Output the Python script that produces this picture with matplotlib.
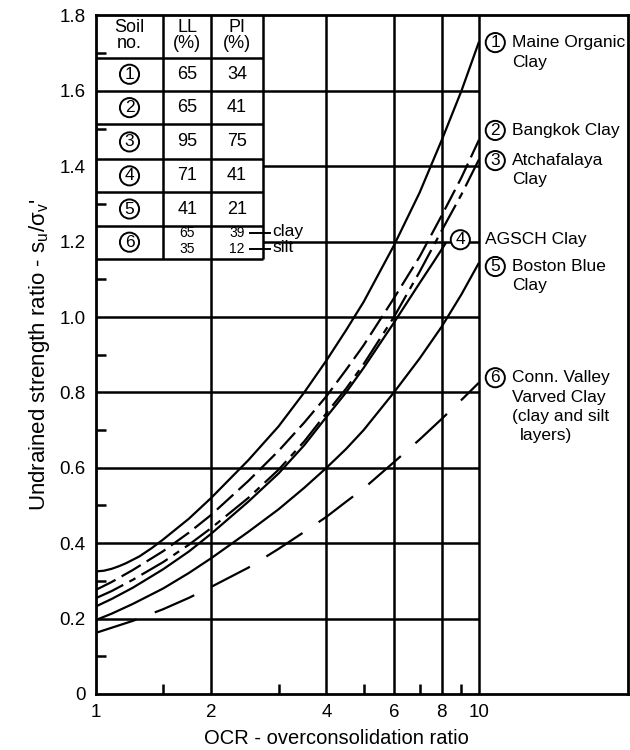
import matplotlib
matplotlib.use("Agg")
import matplotlib.pyplot as plt
import numpy as np
from matplotlib.patches import Rectangle
from matplotlib.ticker import NullFormatter

plt.rcParams["font.family"] = ["Liberation Sans", "DejaVu Sans"]
plt.rcParams["mathtext.fontset"] = "custom"
plt.rcParams["mathtext.rm"] = "Liberation Sans"
plt.rcParams["mathtext.default"] = "regular"
plt.rcParams["lines.scale_dashes"] = False

# --- soil table -------------------------------------------------------------
soil_no = ["1", "2", "3", "4", "5", "6"]
liquid_limit = [65, 65, 95, 71, 41]
plasticity_index = [34, 41, 75, 41, 21]
varved_layers = ["clay", "silt"]
varved_ll = [65, 35]
varved_pi = [39, 12]

soil_names = [
    ["Maine Organic", "Clay"],
    ["Bangkok Clay"],
    ["Atchafalaya", "Clay"],
    ["AGSCH Clay"],
    ["Boston Blue", "Clay"],
    ["Conn. Valley", "Varved Clay", "(clay and silt", "layers)"],
]

# --- undrained strength ratio vs OCR ----------------------------------------
ocr_1 = [1, 1.05, 1.1, 1.15, 1.2, 1.3, 1.4, 1.5, 1.75, 2, 2.5, 3, 3.5, 4, 4.5, 5, 6, 7, 8, 9, 10]
ratio_1 = [0.325, 0.327, 0.332, 0.339, 0.347, 0.365, 0.387, 0.41, 0.465, 0.52, 0.62, 0.71,
           0.80, 0.885, 0.965, 1.04, 1.19, 1.33, 1.47, 1.60, 1.73]

ocr_2 = [1, 1.1, 1.25, 1.5, 1.75, 2, 2.5, 3, 3.5, 4, 4.5, 5, 6, 7, 8, 9, 10]
ratio_2 = [0.276, 0.297, 0.329, 0.379, 0.428, 0.475, 0.565, 0.645, 0.72, 0.79, 0.86, 0.925,
           1.05, 1.16, 1.27, 1.37, 1.47]

ocr_3 = [1, 1.1, 1.25, 1.5, 1.75, 2, 2.5, 3, 3.5, 4, 4.5, 5, 6, 7, 8, 9, 10]
ratio_3 = [0.254, 0.273, 0.303, 0.35, 0.396, 0.44, 0.52, 0.595, 0.67, 0.745, 0.81, 0.875,
           1.0, 1.12, 1.23, 1.325, 1.418]

ocr_4 = [1, 1.1, 1.25, 1.5, 1.75, 2, 2.5, 3, 3.5, 4, 4.5, 5, 6, 7, 7.6, 8.2]
ratio_4 = [0.232, 0.252, 0.282, 0.331, 0.378, 0.425, 0.51, 0.585, 0.66, 0.735, 0.80, 0.865,
           0.985, 1.09, 1.145, 1.197]

ocr_5 = [1, 1.1, 1.25, 1.5, 1.75, 2, 2.5, 3, 3.5, 4, 4.5, 5, 6, 7, 8, 9, 10]
ratio_5 = [0.196, 0.213, 0.239, 0.28, 0.321, 0.36, 0.43, 0.49, 0.547, 0.60, 0.65, 0.70,
           0.80, 0.89, 0.975, 1.06, 1.144]

ocr_6 = [1, 1.25, 1.5, 1.75, 2, 2.5, 3, 3.5, 4, 4.5, 5, 6, 7, 8, 9, 10]
ratio_6 = [0.162, 0.194, 0.225, 0.255, 0.284, 0.335, 0.385, 0.43, 0.47, 0.51, 0.545, 0.615,
           0.675, 0.73, 0.78, 0.826]

curves = [(ocr_1, ratio_1), (ocr_2, ratio_2), (ocr_3, ratio_3),
          (ocr_4, ratio_4), (ocr_5, ratio_5), (ocr_6, ratio_6)]
dash_styles = ["-", (0, (16, 5)), (0, (22, 5, 5, 5)), "-", "-", (0, (31, 14))]

FS = 12.5
LW = 1.8

fig = plt.figure(figsize=(6.3, 7.5), dpi=100)
ax = fig.add_axes([0.152, 0.0747, 0.845, 0.9047])
ax.set_xscale("log")
ax.set_xlim(1, 24.5)
ax.set_ylim(0, 1.8)
ax.set_axisbelow(False)
for s in ax.spines.values():
    s.set_linewidth(2.0)

# grid only over the 1-10 OCR range
ax.vlines([2, 4, 6, 8, 10], 0, 1.8, color="black", lw=LW, zorder=1)
ax.hlines(np.arange(0.2, 1.61, 0.2), 1, 10, color="black", lw=LW, zorder=1)

ax.set_xticks([1, 2, 4, 6, 8, 10])
ax.set_xticklabels(["1", "2", "4", "6", "8", "10"])
ax.set_xticks([1.5, 3, 5, 7, 9], minor=True)
ax.xaxis.set_minor_formatter(NullFormatter())
yt = np.round(np.arange(0, 1.81, 0.2), 1)
ax.set_yticks(yt)
ax.set_yticklabels(["0"] + [f"{v:.1f}" for v in yt[1:]])
ax.set_yticks(np.round(np.arange(0.1, 1.71, 0.2), 1), minor=True)
ax.tick_params(which="major", length=0, pad=7.5, labelsize=13.5)
ax.tick_params(which="minor", direction="in", length=7.5, width=LW)

for (x, y), ls in zip(curves, dash_styles):
    ax.plot(x, y, color="black", lw=1.6, linestyle=ls, zorder=2,
            solid_capstyle="butt", dash_capstyle="butt", solid_joinstyle="round")

# --- table in the upper left corner -----------------------------------------
tx = [1, 1.5, 2, 2.73]
ty = [1.8, 1.688, 1.600, 1.511, 1.418, 1.331, 1.242, 1.155]
ax.add_patch(Rectangle((tx[0], ty[-1]), tx[-1] - tx[0], ty[0] - ty[-1],
                       fc="white", ec="none", zorder=2.1))
ax.vlines(tx[1:], ty[-1], ty[0], color="black", lw=LW, zorder=2.2)
ax.hlines(ty[1:], tx[0], tx[-1], color="black", lw=LW, zorder=2.2)

cx = [np.sqrt(tx[i] * tx[i + 1]) for i in range(3)]
cy = [(ty[i] + ty[i + 1]) / 2 for i in range(len(ty) - 1)]


def circled(x, y, s):
    ax.text(x, y, s, ha="center", va="center", fontsize=FS, zorder=4,
            bbox=dict(boxstyle="circle,pad=0.12", fc="white", ec="black", lw=1.4))


for i, head in enumerate(["Soil\nno.", "LL\n(%)", "PI\n(%)"]):
    ax.text(cx[i], cy[0] + 0.002, head, ha="center", va="center",
            fontsize=13, linespacing=0.95, zorder=4)

for k in range(5):
    circled(cx[0], cy[k + 1], soil_no[k])
    ax.text(cx[1], cy[k + 1], str(liquid_limit[k]), ha="center", va="center", fontsize=13, zorder=4)
    ax.text(cx[2], cy[k + 1], str(plasticity_index[k]), ha="center", va="center", fontsize=13, zorder=4)

circled(cx[0], cy[6], soil_no[5])
for j, yy in enumerate([1.2235, 1.181]):
    ax.text(cx[1], yy, str(varved_ll[j]), ha="center", va="center", fontsize=10, zorder=4)
    ax.text(cx[2], yy, str(varved_pi[j]), ha="center", va="center", fontsize=10, zorder=4)
    ax.plot([2.53, 2.85], [yy, yy], color="black", lw=1.4, zorder=4, clip_on=False)
    ax.text(2.89, yy + 0.004, varved_layers[j], ha="left", va="center", fontsize=FS, zorder=4)

# --- curve labels on the right ----------------------------------------------
label_y = [1.728, 1.495, 1.415, 1.205, 1.134, 0.839]
LINE_STEP = 0.0515
for k, lines in enumerate(soil_names):
    x_circ, x_text = (8.94, 10.38) if k == 3 else (11.03, 12.22)
    circled(x_circ, label_y[k], soil_no[k])
    for j, line in enumerate(lines):
        xt = 12.82 if line == "layers)" else x_text
        ax.text(xt, label_y[k] - j * LINE_STEP, line, ha="left", va="center",
                fontsize=FS, zorder=4)

fig.text(40 / 630, 1 - 355 / 750, r"Undrained strength ratio - $s_u/\sigma_v$'",
         rotation=90, ha="center", va="center", fontsize=16)
fig.text(336 / 630, 1 - 739 / 750, "OCR - overconsolidation ratio",
         ha="center", va="center", fontsize=14.5)

fig.savefig("out.png", dpi=100)
plt.close(fig)
